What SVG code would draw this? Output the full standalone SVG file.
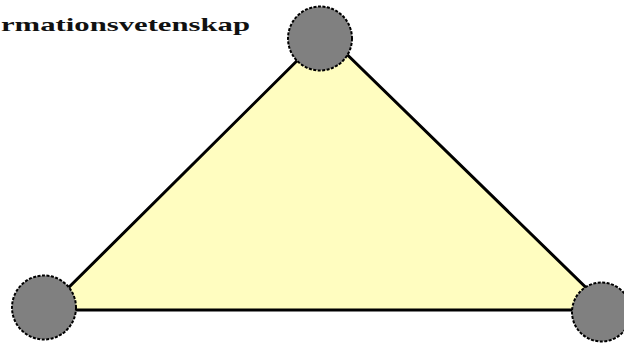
<svg xmlns="http://www.w3.org/2000/svg" width="624" height="347" viewBox="0 0 624 347">
<style>
.node{fill:#808080;stroke:#000;stroke-width:2;stroke-dasharray:3 1.5}
.edge{fill:none;stroke:#000;stroke-width:3;stroke-linejoin:round}
.lbl{font-family:"Liberation Serif","Times New Roman",serif;font-weight:bold;font-size:19px;fill:#111}
</style>
<rect width="624" height="347" fill="#fff"/>
<polygon points="325,33 46,310 609,310" fill="#fffdc0"/>
<g id="connectors">
<polyline class="edge" points="46,310 325,33 609,310"/>
<line class="edge" x1="46" y1="310" x2="609" y2="310"/>
</g>
<g id="node-top"><circle class="node" cx="320" cy="38.5" r="32"/></g>
<g id="node-left"><circle class="node" cx="44" cy="307.5" r="32"/></g>
<g id="node-right"><circle class="node" cx="601.5" cy="312" r="29.5"/></g>
<text class="lbl" x="1" y="31" textLength="249" lengthAdjust="spacingAndGlyphs">rmationsvetenskap</text>
</svg>
